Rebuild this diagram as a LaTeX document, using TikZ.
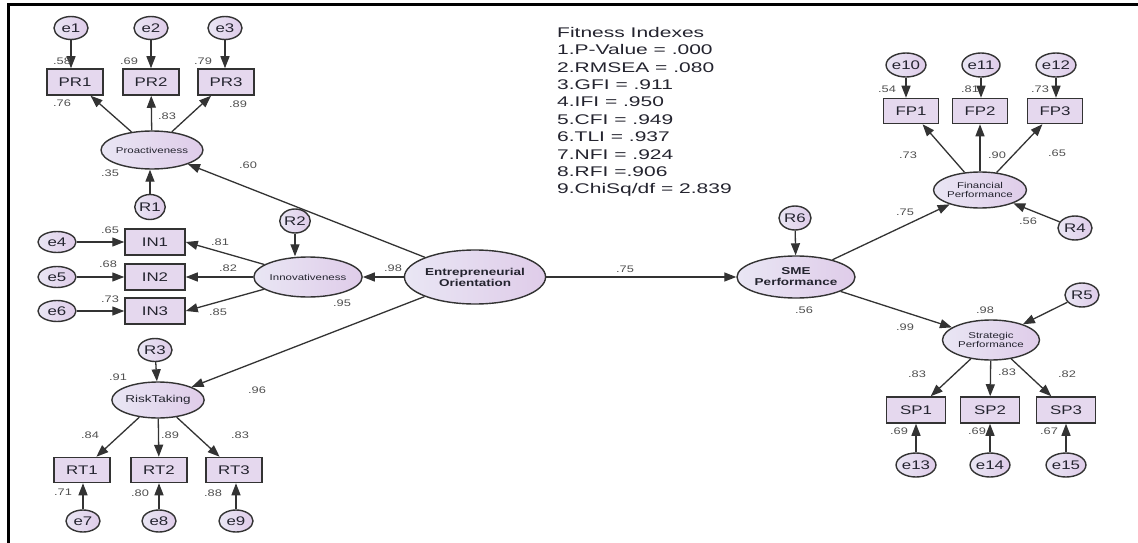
\documentclass[tikz,border=0pt]{standalone}
\usepackage{fontspec}
\setmainfont{Liberation Sans}
\newfontfamily\semfont{Liberation Sans}[FakeStretch=1.35]
\newfontfamily\fitfont{Liberation Sans}[FakeStretch=1.5]
\usetikzlibrary{arrows.meta,shapes.geometric}

\definecolor{linec}{HTML}{333333}
\definecolor{ellL}{HTML}{E9E6F4}
\definecolor{ellR}{HTML}{DFCCE9}
\definecolor{boxfill}{HTML}{E5D8EE}
\definecolor{textc}{HTML}{24242F}
\definecolor{coefc}{HTML}{505050}

\tikzset{
  latent/.style={ellipse, draw=linec, line width=1.4pt, left color=ellL, right color=ellR,
    inner sep=0pt, text=textc, align=center},
  errv/.style={ellipse, draw=linec, line width=1.4pt, left color=ellL, right color=ellR,
    inner sep=0pt, minimum width=34pt, minimum height=23pt, text=textc,
    font=\semfont\fontsize{12.5}{13}\selectfont},
  obs/.style={rectangle, draw=linec, line width=1.5pt, fill=boxfill, inner sep=0pt,
    minimum width=56pt, minimum height=26pt, text=textc,
    font=\semfont\fontsize{12.5}{13}\selectfont},
  coef/.style={inner sep=0pt, text=coefc, font=\semfont\fontsize{9.5}{10}\selectfont},
  reg/.style={draw=linec, line width=1.3pt, -{Triangle[length=12pt,width=9pt]}},
  small/.style={font=\semfont\fontsize{8.5}{9.5}\selectfont},
  bold/.style={font=\semfont\bfseries\fontsize{10}{11}\selectfont},
}

\begin{document}
\begin{tikzpicture}[x=1pt,y=-1pt]
\useasboundingbox (0,0) rectangle (1138,543);
\fill[white] (0,0) rectangle (1138,543);
% frame lines on top and left
\draw[line width=3pt] (1138,5) -- (8,5) -- (8,543);

% ---------- Proactiveness ----------
\node[errv] (e1) at (71,28) {e1};
\node[errv] (e2) at (151,28) {e2};
\node[errv] (e3) at (225,28) {e3};
\node[obs] (PR1) at (75,82) {PR1};
\node[obs] (PR2) at (151,82) {PR2};
\node[obs] (PR3) at (226,82) {PR3};
\node[latent, small, minimum width=96pt, minimum height=38pt] (Pro) at (152,150) {Proactiveness};
\node[errv, minimum width=30pt, minimum height=25pt] (R1) at (150,207) {R1};

\draw[reg] (e1) -- (e1 |- PR1.north);
\draw[reg] (e2) -- (e2 |- PR2.north);
\draw[reg] (e3) -- (e3 |- PR3.north);
\draw[reg] (Pro) -- (PR1);
\draw[reg] (Pro) -- (PR2);
\draw[reg] (Pro) -- (PR3);
\draw[reg] (R1) -- (R1 |- Pro.south);

\node[coef] (c1) at (62,61) {.58};
\node[coef] (c2) at (129,61) {.69};
\node[coef] (c3) at (203,61) {.79};
\node[coef] (c4) at (62,103) {.76};
\node[coef] (c5) at (167,116) {.83};
\node[coef] (c6) at (238,104) {.89};
\node[coef] (c7) at (110,173) {.35};
\node[coef] (c8) at (248,165) {.60};

% ---------- Innovativeness ----------
\node[errv, minimum width=38pt, minimum height=21pt] (e4) at (57,242) {e4};
\node[errv, minimum width=38pt, minimum height=21pt] (e5) at (57,277) {e5};
\node[errv, minimum width=38pt, minimum height=21pt] (e6) at (57,311) {e6};
\node[obs, minimum width=60pt] (IN1) at (155,242) {IN1};
\node[obs, minimum width=60pt] (IN2) at (155,277) {IN2};
\node[obs, minimum width=60pt] (IN3) at (155,311) {IN3};
\node[latent, small, minimum width=94pt, minimum height=40pt] (Inn) at (308,277) {Innovativeness};
\node[errv, minimum width=30pt, minimum height=24pt] (R2) at (295,221) {R2};

\draw[reg] (e4) -- (e4 -| IN1.west);
\draw[reg] (e5) -- (e5 -| IN2.west);
\draw[reg] (e6) -- (e6 -| IN3.west);
\draw[reg] (Inn) -- (IN1.east);
\draw[reg] (Inn) -- (IN2.east);
\draw[reg] (Inn) -- (IN3.east);
\draw[reg] (R2) -- (R2 |- Inn.north);

\node[coef] (c9) at (110,230) {.65};
\node[coef] (c10) at (108,264) {.68};
\node[coef] (c11) at (110,299) {.73};
\node[coef] (c12) at (220,242) {.81};
\node[coef] (c13) at (228,268) {.82};
\node[coef] (c14) at (218,312) {.85};
\node[coef] (c15) at (393,268) {.98};
\node[coef] (c16) at (342,303) {.95};

% ---------- Entrepreneurial Orientation ----------
\node[latent, bold, minimum width=120pt, minimum height=54pt] (EO) at (475,277) {Entrepreneurial\\Orientation};
\draw[reg] (EO) -- (Inn);
\draw[reg] (EO) -- (Pro);

% ---------- Risk Taking ----------
\node[errv] (R3) at (155,350) {R3};
\node[latent, font=\semfont\fontsize{10}{11}\selectfont, minimum width=90pt, minimum height=36pt] (RT) at (158,400) {RiskTaking};
\node[obs, minimum height=25pt] (RT1) at (82,470) {RT1};
\node[obs, minimum height=25pt] (RT2) at (159,470) {RT2};
\node[obs, minimum height=25pt] (RT3) at (234,470) {RT3};
\node[errv, minimum height=22pt] (e7) at (83,521) {e7};
\node[errv, minimum height=22pt] (e8) at (159,521) {e8};
\node[errv, minimum height=22pt] (e9) at (236,521) {e9};

\draw[reg] (R3) -- (RT);
\draw[reg] (EO) -- (RT);
\draw[reg] (RT) -- (RT1);
\draw[reg] (RT) -- (RT2);
\draw[reg] (RT) -- (RT3);
\draw[reg] (e7) -- (e7 |- RT1.south);
\draw[reg] (e8) -- (e8 |- RT2.south);
\draw[reg] (e9) -- (e9 |- RT3.south);

\node[coef] (c17) at (118,377) {.91};
\node[coef] (c18) at (257,390) {.96};
\node[coef] (c19) at (90,435) {.84};
\node[coef] (c20) at (170,435) {.89};
\node[coef] (c21) at (240,435) {.83};
\node[coef] (c22) at (63,492) {.71};
\node[coef] (c23) at (140,493) {.80};
\node[coef] (c24) at (213,493) {.88};

% ---------- Fit indexes ----------
\node[anchor=north west, inner sep=0pt, align=left, text=textc,
  font=\fitfont\fontsize{14}{17.4}\selectfont] (fit) at (557,27)
  {Fitness Indexes\\1.P-Value = .000\\2.RMSEA = .080\\3.GFI = .911\\4.IFI = .950\\5.CFI = .949\\6.TLI = .937\\7.NFI = .924\\8.RFI =.906\\9.ChiSq/df = 2.839};

% ---------- SME Performance ----------
\node[latent, bold, minimum width=118pt, minimum height=42pt] (SME) at (796,277) {SME\\Performance};
\node[errv, minimum width=32pt, minimum height=24pt] (R6) at (795,218) {R6};
\draw[reg] (EO) -- (SME);
\draw[reg] (R6) -- (SME);
\node[coef] (c25) at (625,269) {.75};
\node[coef] (c26) at (804,310) {.56};

% ---------- Financial Performance ----------
\node[errv, minimum width=36pt, minimum height=24pt] (e10) at (906,65) {e10};
\node[errv, minimum width=36pt, minimum height=24pt] (e11) at (981,65) {e11};
\node[errv, minimum width=36pt, minimum height=24pt] (e12) at (1056,65) {e12};
\node[obs, minimum width=55pt, minimum height=25pt] (FP1) at (911,111) {FP1};
\node[obs, minimum width=55pt, minimum height=25pt] (FP2) at (980,111) {FP2};
\node[obs, minimum width=55pt, minimum height=25pt] (FP3) at (1055,111) {FP3};
\node[latent, small, minimum width=90pt, minimum height=36pt] (FP) at (980,190) {Financial\\Performance};
\node[errv, minimum width=34pt, minimum height=24pt] (R4) at (1075,228) {R4};

\draw[reg] (e10) -- (e10 |- FP1.north);
\draw[reg] (e11) -- (e11 |- FP2.north);
\draw[reg] (e12) -- (e12 |- FP3.north);
\draw[reg] (FP) -- (FP1);
\draw[reg] (FP) -- (FP2);
\draw[reg] (FP) -- (FP3);
\draw[reg] (SME) -- (FP);
\draw[reg] (R4) -- (FP);

\node[coef] (c27) at (887,89) {.54};
\node[coef] (c28) at (970,89) {.81};
\node[coef] (c29) at (1040,89) {.73};
\node[coef] (c30) at (908,155) {.73};
\node[coef] (c31) at (997,155) {.90};
\node[coef] (c32) at (1057,153) {.65};
\node[coef] (c33) at (905,212) {.75};
\node[coef] (c34) at (1028,221) {.56};

% ---------- Strategic Performance ----------
\node[errv, minimum width=34pt, minimum height=24pt] (R5) at (1082,295) {R5};
\node[latent, small, minimum width=97pt, minimum height=40pt] (SP) at (991,340) {Strategic\\Performance};
\node[obs, minimum width=59pt] (SP1) at (916,410) {SP1};
\node[obs, minimum width=59pt] (SP2) at (990,410) {SP2};
\node[obs, minimum width=59pt] (SP3) at (1066,410) {SP3};
\node[errv, minimum width=38pt, minimum height=24pt] (e13) at (916,465) {e13};
\node[errv, minimum width=38pt, minimum height=24pt] (e14) at (990,465) {e14};
\node[errv, minimum width=38pt, minimum height=24pt] (e15) at (1066,465) {e15};

\draw[reg] (SME) -- (SP);
\draw[reg] (R5) -- (SP);
\draw[reg] (SP) -- (SP1);
\draw[reg] (SP) -- (SP2);
\draw[reg] (SP) -- (SP3);
\draw[reg] (e13) -- (e13 |- SP1.south);
\draw[reg] (e14) -- (e14 |- SP2.south);
\draw[reg] (e15) -- (e15 |- SP3.south);

\node[coef] (c35) at (985,310) {.98};
\node[coef] (c36) at (905,327) {.99};
\node[coef] (c37) at (917,374) {.83};
\node[coef] (c38) at (1007,372) {.83};
\node[coef] (c39) at (1067,374) {.82};
\node[coef] (c40) at (899,431) {.69};
\node[coef] (c41) at (977,431) {.69};
\node[coef] (c42) at (1049,431) {.67};
\end{tikzpicture}
\end{document}
